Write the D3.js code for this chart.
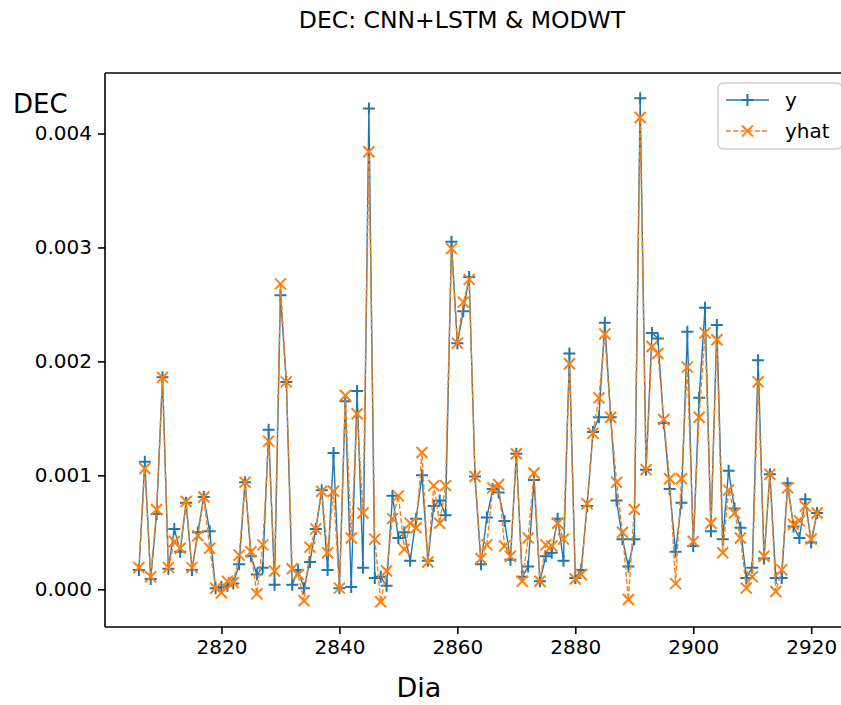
<!DOCTYPE html>
<html><head><meta charset="utf-8">
<script src="https://cdn.jsdelivr.net/npm/d3@7"></script>
<style>
body{margin:0;background:#fff}
svg{display:block}
text{font-family:"DejaVu Sans",sans-serif;fill:#000}
</style>
</head><body>
<svg id="chart" width="841" height="705"></svg>
<script>
// ---- data (values in units of 0.001) ----
const days = [2806,2807,2808,2809,2810,2811,2812,2813,2814,2815,
  2816,2817,2818,2819,2820,2821,2822,2823,2824,2825,
  2826,2827,2828,2829,2830,2831,2832,2833,2834,2835,
  2836,2837,2838,2839,2840,2841,2842,2843,2844,2845,
  2846,2847,2848,2849,2850,2851,2852,2853,2854,2855,
  2856,2857,2858,2859,2860,2861,2862,2863,2864,2865,
  2866,2867,2868,2869,2870,2871,2872,2873,2874,2875,
  2876,2877,2878,2879,2880,2881,2882,2883,2884,2885,
  2886,2887,2888,2889,2890,2891,2892,2893,2894,2895,
  2896,2897,2898,2899,2900,2901,2902,2903,2904,2905,
  2906,2907,2908,2909,2910,2911,2912,2913,2914,2915,
  2916,2917,2918,2919,2920,2921];
const yActual = [0.17,1.12,0.09,0.66,1.86,0.18,0.53,0.33,0.76,0.17,
  0.50,0.81,0.51,0.01,0.02,0.03,0.05,0.22,0.94,0.29,
  0.13,0.19,1.40,0.04,2.58,1.82,0.04,0.17,0.01,0.24,
  0.53,0.87,0.17,1.195,0.01,1.65,0.02,1.74,0.19,4.22,
  0.10,0.11,0.03,0.82,0.45,0.50,0.25,0.62,1.00,0.25,
  0.73,0.78,0.65,3.05,2.16,2.44,2.74,0.99,0.22,0.63,
  0.88,0.85,0.60,0.26,1.19,0.11,0.20,0.96,0.07,0.29,
  0.32,0.62,0.25,2.07,0.10,0.17,0.73,1.38,1.51,2.34,
  1.51,0.78,0.44,0.20,0.44,4.31,1.05,2.25,2.20,1.46,
  0.88,0.33,0.76,2.26,0.38,1.68,2.47,0.51,2.32,0.44,
  1.04,0.71,0.54,0.10,0.19,2.01,0.27,1.01,0.10,0.10,
  0.93,0.55,0.45,0.79,0.41,0.67];
const yPred = [0.19,1.06,0.11,0.70,1.86,0.19,0.42,0.36,0.77,0.19,
  0.47,0.81,0.36,0.01,-0.03,0.07,0.06,0.30,0.94,0.33,
  -0.04,0.39,1.30,0.16,2.68,1.82,0.18,0.13,-0.10,0.37,
  0.53,0.86,0.32,0.86,0.01,1.70,0.45,1.54,0.67,3.84,
  0.44,-0.11,0.16,0.62,0.82,0.35,0.58,0.54,1.20,0.24,
  0.91,0.58,0.91,2.99,2.16,2.52,2.72,0.99,0.27,0.39,
  0.89,0.92,0.38,0.29,1.19,0.07,0.45,1.02,0.07,0.39,
  0.38,0.58,0.44,1.98,0.09,0.13,0.75,1.37,1.68,2.24,
  1.51,0.94,0.50,-0.09,0.70,4.14,1.05,2.13,2.07,1.49,
  0.97,0.05,0.97,1.95,0.42,1.51,2.25,0.58,2.19,0.32,
  0.87,0.67,0.45,0.01,0.11,1.82,0.29,1.01,-0.02,0.17,
  0.89,0.57,0.60,0.73,0.44,0.67];
const xTicks = [2820,2840,2860,2880,2900,2920];
const yTicks = [0,1,2,3,4];
const seriesNames = ["y","yhat"];
const titleText = "DEC: CNN+LSTM & MODWT";
const xLabel = "Dia";
const yLabel = "DEC";

// ---- layout ----
const L = 105, T = 73, B = 627, R = 851;
const svg = d3.select("#chart");

const xExt = d3.extent(days), xPad = (xExt[1]-xExt[0])*0.05;
const x = d3.scaleLinear().domain([xExt[0]-xPad, xExt[1]+xPad]).range([L, R]);
const all = yActual.concat(yPred);
const yExt = d3.extent(all), yPad = (yExt[1]-yExt[0])*0.05;
const y = d3.scaleLinear().domain([yExt[0]-yPad, yExt[1]+yPad]).range([B, T]);

const blue = "#1f77b4", orange = "#ff7f0e";

// axes
const xAxis = d3.axisBottom(x).tickValues(xTicks).tickFormat(d3.format("d")).tickSizeOuter(0).tickSize(7).tickPadding(6);
const yAxis = d3.axisLeft(y).tickValues(yTicks).tickFormat(d => (d/1000).toFixed(3)).tickSizeOuter(0).tickSize(7).tickPadding(6);

const gx = svg.append("g").attr("transform", `translate(0,${B})`).call(xAxis);
const gy = svg.append("g").attr("transform", `translate(${L},0)`).call(yAxis);
[gx, gy].forEach(g => {
  g.select(".domain").remove();
  g.selectAll(".tick line").attr("stroke", "#000").attr("stroke-width", 1.6);
  g.selectAll(".tick text").attr("font-size", 20).attr("font-family", "DejaVu Sans").attr("fill", "#000");
});

// spines
svg.append("line").attr("x1", L).attr("x2", L).attr("y1", T).attr("y2", B).attr("stroke", "#000").attr("stroke-width", 1.6);
svg.append("line").attr("x1", L).attr("x2", R).attr("y1", B).attr("y2", B).attr("stroke", "#000").attr("stroke-width", 1.6);
svg.append("line").attr("x1", L).attr("x2", R).attr("y1", T).attr("y2", T).attr("stroke", "#000").attr("stroke-width", 1.6);

const plusPath = "M-6,0H6M0,-6V6";
const crossPath = "M-5.5,-5.5L5.5,5.5M-5.5,5.5L5.5,-5.5";

const line = d3.line().x((d,i) => x(days[i])).y(d => y(d));

const plot = svg.append("g");
// y series
plot.append("path").datum(yActual).attr("d", line).attr("fill", "none").attr("stroke", blue).attr("stroke-width", 1.4);
plot.append("g").selectAll("path").data(yActual).join("path")
  .attr("transform", (d,i) => `translate(${x(days[i])},${y(d)})`)
  .attr("d", plusPath).attr("stroke", blue).attr("stroke-width", 2).attr("fill", "none");
// yhat series
plot.append("path").datum(yPred).attr("d", line).attr("fill", "none").attr("stroke", orange).attr("stroke-width", 1.4).attr("stroke-dasharray", "5,2.2");
plot.append("g").selectAll("path").data(yPred).join("path")
  .attr("transform", (d,i) => `translate(${x(days[i])},${y(d)})`)
  .attr("d", crossPath).attr("stroke", orange).attr("stroke-width", 2).attr("fill", "none");

// title & labels
svg.append("text").attr("x", 462).attr("y", 28).attr("text-anchor", "middle").attr("font-size", 23.5).text(titleText);
svg.append("text").attr("x", 419).attr("y", 697).attr("text-anchor", "middle").attr("font-size", 27).text(xLabel);
svg.append("text").attr("x", 13).attr("y", 113).attr("text-anchor", "start").attr("font-size", 26).text(yLabel);

// legend
const lg = svg.append("g").attr("transform", "translate(718,83)");
lg.append("rect").attr("x", 0).attr("y", 0).attr("width", 124).attr("height", 66).attr("rx", 5)
  .attr("fill", "#fff").attr("fill-opacity", 0.8).attr("stroke", "#d0d0d0").attr("stroke-width", 1.5);
const rows = [{c: blue, dash: null, m: plusPath}, {c: orange, dash: "5,2.2", m: crossPath}];
rows.forEach((r, i) => {
  const cy = 17 + i * 31;
  lg.append("line").attr("x1", 8).attr("x2", 51).attr("y1", cy).attr("y2", cy)
    .attr("stroke", r.c).attr("stroke-width", 1.4).attr("stroke-dasharray", r.dash);
  lg.append("path").attr("transform", `translate(29.5,${cy})`).attr("d", r.m)
    .attr("stroke", r.c).attr("stroke-width", 2).attr("fill", "none");
  lg.append("text").attr("x", 67).attr("y", cy + 7).attr("font-size", 20).text(seriesNames[i]);
});
</script>
</body></html>
